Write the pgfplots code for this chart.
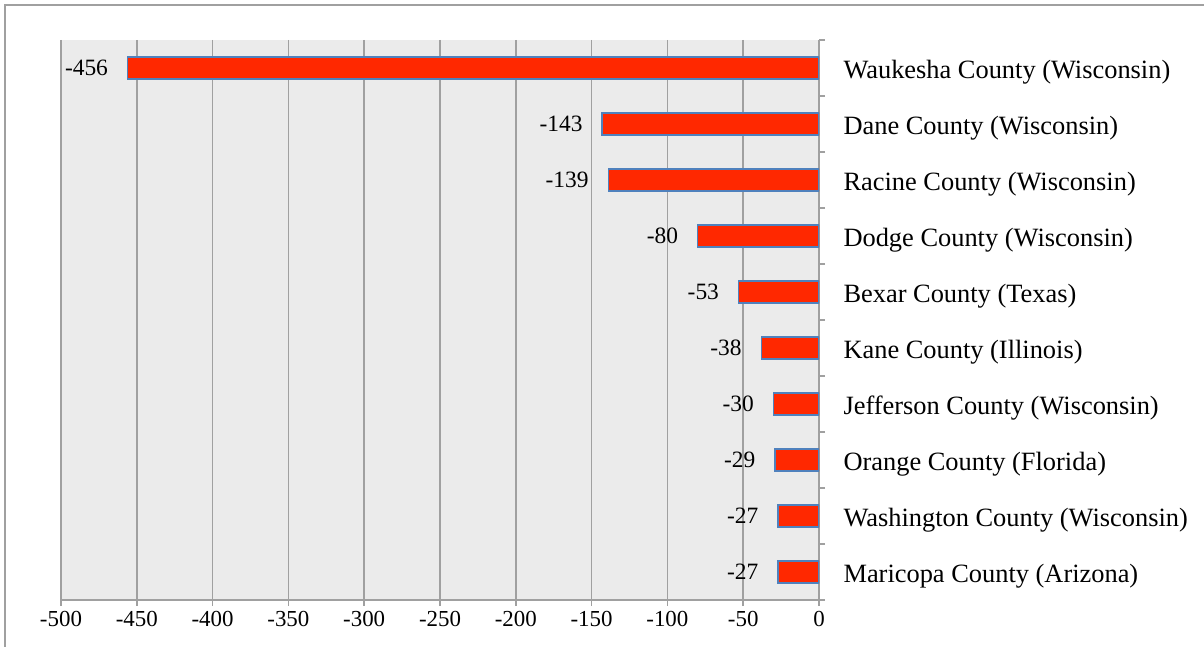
\documentclass[border=0pt]{standalone}
\usepackage{pgfplots}
\pgfplotsset{compat=1.18}
\usepackage{fontspec}
\setmainfont{Liberation Serif}
\definecolor{bggray}{RGB}{235,235,235}
\definecolor{gridgray}{RGB}{160,160,160}
\definecolor{framegray}{RGB}{160,160,160}
\definecolor{barred}{RGB}{255,40,0}
\definecolor{baredge}{RGB}{79,129,189}
\pgfplotstableread{
i v lab
0 -456 -456
1 -143 -143
2 -139 -139
3 -80 -80
4 -53 -53
5 -38 -38
6 -30 -30
7 -29 -29
8 -27 -27
9 -27 -27
}\datatable
\begin{document}
\begin{tikzpicture}[x=1bp,y=1bp]
\useasboundingbox (0,0) rectangle (1204,647);
\draw[framegray, line width=1.5bp] (5,-5) -- (5,642) -- (1210,642);
\begin{axis}[
  at={(61bp,47bp)}, anchor=south west,
  scale only axis, width=758bp, height=560bp,
  xmin=-500, xmax=0, ymin=-0.5, ymax=9.5,
  y dir=reverse,
  axis x line*=bottom, axis y line*=right,
  axis line style={draw=gridgray, line width=1.5bp},
  axis background/.style={fill=bggray},
  xtick={-500,-450,...,0},
  xticklabels={-500,-450,-400,-350,-300,-250,-200,-150,-100,-50,0},
  ytick={0,...,9},
  yticklabels={Waukesha County (Wisconsin),Dane County (Wisconsin),Racine County (Wisconsin),Dodge County (Wisconsin),Bexar County (Texas),Kane County (Illinois),Jefferson County (Wisconsin),Orange County (Florida),Washington County (Wisconsin),Maricopa County (Arizona)},
  minor ytick={-0.5,0.5,...,9.5},
  major y tick style={draw=none},
  tick align=outside,
  major tick length=6bp, minor tick length=6bp,
  tick style={draw=gridgray, line width=1.5bp},
  xmajorgrids, ymajorgrids=false,
  major grid style={draw=gridgray, line width=1.5bp},
  x tick label style={font=\fontsize{23}{23}\selectfont, yshift=-2bp},
  y tick label style={font=\fontsize{26.5}{26.5}\selectfont, anchor=west, xshift=15bp, yshift=-4bp},
  xbar, bar width=22bp,
  nodes near coords, point meta=explicit symbolic,
  every node near coord/.append style={font=\fontsize{23.5}{23.5}\selectfont, anchor=east, xshift=-19bp, inner sep=0pt},
]
\addplot[fill=barred, draw=baredge, line width=1.5bp] table[x=v, y=i, meta=lab] {\datatable};
\end{axis}
\end{tikzpicture}
\end{document}
